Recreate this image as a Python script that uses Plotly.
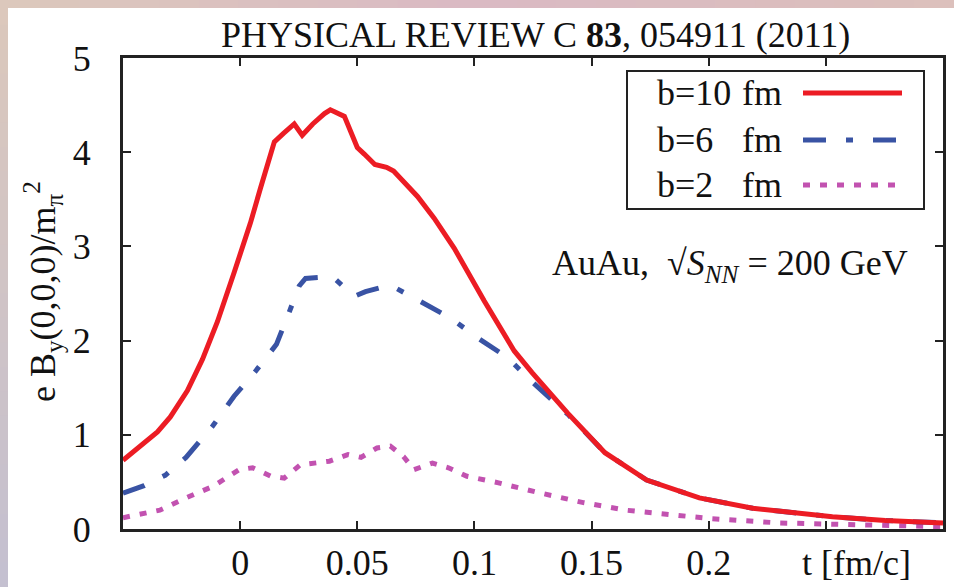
import plotly.graph_objects as go

# Time axis and field strength e*B_y(0,0,0)/m_pi^2 for three impact parameters
t_b10 = [-0.05, -0.0439, -0.0353, -0.0298, -0.0225, -0.0161, -0.0097, -0.0026, 0.0044,
         0.0087, 0.0117, 0.0146, 0.0185, 0.0231, 0.0265, 0.031, 0.036, 0.0385, 0.0445,
         0.05, 0.053, 0.0575, 0.0625, 0.0655, 0.0757, 0.0828, 0.0914, 0.1042, 0.117,
         0.1246, 0.1398, 0.1557, 0.1735, 0.196, 0.2188, 0.2528, 0.2754, 0.30]
b10 = [0.73, 0.86, 1.03, 1.19, 1.47, 1.80, 2.20, 2.72, 3.25,
       3.62, 3.88, 4.11, 4.20, 4.30, 4.18, 4.30, 4.41, 4.45, 4.38,
       4.05, 3.98, 3.87, 3.84, 3.80, 3.53, 3.30, 2.98, 2.42, 1.89,
       1.66, 1.23, 0.81, 0.52, 0.33, 0.22, 0.13, 0.09, 0.065]

t_b6 = [-0.05, -0.041, -0.032, -0.0231, -0.0118, -0.0026, 0.0064, 0.0155, 0.0209, 0.0252,
        0.0279, 0.0394, 0.0487, 0.0535, 0.0641, 0.077, 0.0898, 0.1013, 0.1141, 0.1251,
        0.1398, 0.1557, 0.1735, 0.196, 0.2188, 0.2528, 0.2754, 0.30]
b6 = [0.38, 0.46, 0.57, 0.76, 1.09, 1.41, 1.67, 1.96, 2.30, 2.58,
      2.66, 2.68, 2.47, 2.52, 2.59, 2.42, 2.24, 2.03, 1.82, 1.55,
      1.22, 0.81, 0.52, 0.33, 0.22, 0.13, 0.09, 0.065]

t_b2 = [-0.05, -0.0343, -0.0231, -0.0118, -0.0004, 0.0053, 0.0132, 0.0188, 0.0256, 0.0381,
        0.046, 0.0516, 0.0584, 0.0641, 0.0697, 0.0742, 0.0821, 0.0889, 0.0968, 0.1103,
        0.1285, 0.1465, 0.1645, 0.1827, 0.2009, 0.2303, 0.2636, 0.30]
b2 = [0.12, 0.20, 0.33, 0.45, 0.63, 0.65, 0.56, 0.54, 0.68, 0.72,
      0.79, 0.76, 0.86, 0.88, 0.77, 0.63, 0.70, 0.65, 0.56, 0.49,
      0.38, 0.28, 0.20, 0.15, 0.11, 0.064, 0.045, 0.025]

x_tickvals = [-0.05, 0, 0.05, 0.1, 0.15, 0.2, 0.25, 0.3]
x_ticktext = ["", "0", "0.05", "0.1", "0.15", "0.2", "", ""]
y_tickvals = [0, 1, 2, 3, 4, 5]

series_names = ["b=10", "b=6", "b=2"]
RED, BLUE, PINK = "#ec1c24", "#3953a4", "#c252b0"
DASHDOT = "23px,20px,7px,20px"
DOTTED = "7px,10px"

FONT = "Liberation Serif"
W, H = 954, 587
PL, PR, PT, PB = 123, 943, 58, 529


def px(x):
    return (x - PL) / (PR - PL)


def py(y):
    return (PB - y) / (PB - PT)


fig = go.Figure()
fig.add_trace(go.Scatter(x=t_b2, y=b2, mode="lines", name=series_names[2],
                         line=dict(color=PINK, width=5, dash=DOTTED)))
fig.add_trace(go.Scatter(x=t_b6, y=b6, mode="lines", name=series_names[1],
                         line=dict(color=BLUE, width=5, dash=DASHDOT)))
fig.add_trace(go.Scatter(x=t_b10, y=b10, mode="lines", name=series_names[0],
                         line=dict(color=RED, width=5)))

shapes = []
annotations = []

# soft tinted strips along the top and left edges of the page
n = 24
for i in range(n):
    f = i / (n - 1)
    # top strip: beige -> mauve -> beige-pink
    if f < 0.5:
        g = f / 0.5
        c = (int(220 - 2 * g), int(200 - 14 * g), int(188 + 8 * g))
    else:
        g = (f - 0.5) / 0.5
        c = (int(218 + 2 * g), int(186 + 6 * g), int(196 - 8 * g))
    shapes.append(dict(type="rect", xref="paper", yref="paper",
                       x0=px(i * W / n), x1=px((i + 1) * W / n + 1),
                       y0=py(8), y1=py(0), line_width=0,
                       fillcolor="rgb(%d,%d,%d)" % c, layer="below"))
    # left strip: beige -> lavender
    c2 = (int(220 - 24 * f), int(200 - 8 * f), int(188 + 20 * f))
    shapes.append(dict(type="rect", xref="paper", yref="paper",
                       x0=px(0), x1=px(8),
                       y0=py((i + 1) * H / n + 1), y1=py(max(i * H / n, 8)),
                       line_width=0, fillcolor="rgb(%d,%d,%d)" % c2, layer="below"))

# key box with label text first and line sample after it
shapes.append(dict(type="rect", xref="paper", yref="paper",
                   x0=px(627), x1=px(924), y0=py(209), y1=py(71),
                   line=dict(color="#222222", width=2), fillcolor="white"))
key_rows = [(93, "b=10", dict(color=RED, width=5)),
            (140, "b=6", dict(color=BLUE, width=5, dash=DASHDOT)),
            (185, "b=2", dict(color=PINK, width=5, dash=DOTTED))]
for yrow, label, ln in key_rows:
    annotations.append(dict(xref="paper", yref="paper", x=px(655), y=py(yrow),
                            xanchor="left", yanchor="middle", text=label,
                            showarrow=False, font=dict(family=FONT, size=36, color="#111")))
    annotations.append(dict(xref="paper", yref="paper", x=px(740), y=py(yrow),
                            xanchor="left", yanchor="middle", text="fm",
                            showarrow=False, font=dict(family=FONT, size=36, color="#111")))
    shapes.append(dict(type="line", xref="paper", yref="paper",
                       x0=px(803), x1=px(902), y0=py(yrow), y1=py(yrow), line=ln))

annotations.append(dict(xref="paper", yref="paper", x=px(730), y=py(265),
                        xanchor="center", yanchor="middle",
                        text="AuAu,  √<i>S</i><sub><i>NN</i></sub> = 200 GeV",
                        showarrow=False, font=dict(family=FONT, size=36, color="#111")))

annotations.append(dict(xref="paper", yref="paper", x=px(535), y=py(35),
                        xanchor="center", yanchor="middle",
                        text="PHYSICAL REVIEW C <b>83</b>, 054911 (2011)",
                        showarrow=False, font=dict(family=FONT, size=36, color="#111")))

annotations.append(dict(xref="paper", yref="paper", x=px(856), y=py(563),
                        xanchor="center", yanchor="middle", text="t [fm/c]",
                        showarrow=False, font=dict(family=FONT, size=36, color="#111")))

annotations.append(dict(xref="paper", yref="paper", x=px(43), y=py(292),
                        xanchor="center", yanchor="middle", textangle=-90,
                        text="e B<sub>y</sub>(0,0,0)/m<sub>π</sub><sup>2</sup>",
                        showarrow=False, font=dict(family=FONT, size=36, color="#111")))

axis_common = dict(showgrid=False, zeroline=False, showline=True, linecolor="#222222",
                   linewidth=3, mirror="ticks", ticks="inside", ticklen=8, tickwidth=2,
                   tickcolor="#222222", automargin=False,
                   tickfont=dict(family=FONT, size=36, color="#111"))

fig.update_layout(
    width=W, height=H,
    margin=dict(l=PL, r=W - PR, t=PT, b=H - PB),
    paper_bgcolor="white", plot_bgcolor="white",
    showlegend=False,
    xaxis=dict(range=[-0.05, 0.3], tickvals=x_tickvals, ticktext=x_ticktext,
               ticklabelstandoff=0, **axis_common),
    yaxis=dict(range=[0, 5], tickvals=y_tickvals, ticklabelstandoff=22, **axis_common),
    shapes=shapes,
    annotations=annotations,
)

fig.write_html("out.html")
